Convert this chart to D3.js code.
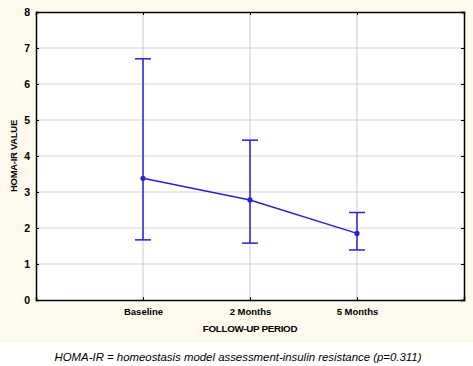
<!DOCTYPE html>
<html>
<head>
<meta charset="utf-8">
<script src="https://cdn.jsdelivr.net/npm/d3@7"></script>
<style>
  body { margin: 0; background: #ffffff; }
  svg { display: block; font-family: "Liberation Sans", Arial, sans-serif; }
</style>
</head>
<body>
<svg id="chart" width="473" height="366"></svg>
<script>
// Data.
const periods = ["Baseline", "2 Months", "5 Months"];
const means = [3.38, 2.78, 1.85];
const upper = [6.70, 4.44, 2.43];
const lower = [1.67, 1.58, 1.39];
const yTicks = [0, 1, 2, 3, 4, 5, 6, 7, 8];

const svg = d3.select("#chart");
const margin = { top: 12, right: 9, bottom: 66, left: 36 };
const W = 473, H = 366;
const innerW = W - margin.left - margin.right;
const innerH = 300 - margin.top;

// Cream panel behind the chart.
svg.append("rect")
  .attr("x", 0).attr("y", 0)
  .attr("width", W).attr("height", 343)
  .attr("fill", "#fdf9ec");

const g = svg.append("g").attr("transform", `translate(${margin.left},${margin.top})`);

// Scales.
const x = d3.scalePoint().domain(periods).range([0, innerW]).padding(1);
const y = d3.scaleLinear().domain([0, 8]).range([innerH, 0]);

// Plot area.
g.append("rect")
  .attr("width", innerW).attr("height", innerH)
  .attr("fill", "#ffffff");

// Gridlines.
g.selectAll(".hgrid")
  .data(yTicks.slice(1, -1))
  .enter()
  .append("line")
  .attr("x1", 0).attr("x2", innerW)
  .attr("y1", d => y(d)).attr("y2", d => y(d))
  .attr("stroke", "#d4d4d4").attr("stroke-width", 1.2);

g.selectAll(".vgrid")
  .data(periods)
  .enter()
  .append("line")
  .attr("x1", d => x(d)).attr("x2", d => x(d))
  .attr("y1", 0).attr("y2", innerH)
  .attr("stroke", "#d4d4d4").attr("stroke-width", 1.2);

// Axes with inward ticks on all four sides.
const axLeft = g.append("g")
  .call(d3.axisLeft(y).tickValues(yTicks).tickSize(-3).tickPadding(6));
const axRight = g.append("g").attr("transform", `translate(${innerW},0)`)
  .call(d3.axisRight(y).tickValues(yTicks).tickSize(-3).tickFormat(""));
const axBottom = g.append("g").attr("transform", `translate(0,${innerH})`)
  .call(d3.axisBottom(x).tickSize(-3).tickPadding(8));
const axTop = g.append("g")
  .call(d3.axisTop(x).tickSize(-3).tickFormat(""));

[axLeft, axRight, axBottom, axTop].forEach(a => {
  a.select(".domain").attr("stroke", "#000").attr("stroke-width", 1.5);
  a.selectAll(".tick line").attr("stroke", "#000").attr("stroke-width", 1);
  a.selectAll("text")
    .attr("fill", "#000")
    .attr("font-family", "Liberation Sans, Arial, sans-serif")
    .attr("font-weight", "bold");
});
axLeft.selectAll("text").attr("font-size", 10.5);
axBottom.selectAll("text").attr("font-size", 9.5);

// Error bars.
const blue = "#2323d2";
const capW = 8;
periods.forEach((p, i) => {
  const cx = x(p);
  g.append("line")
    .attr("x1", cx).attr("x2", cx)
    .attr("y1", y(lower[i])).attr("y2", y(upper[i]))
    .attr("stroke", blue).attr("stroke-width", 1.5);
  [lower[i], upper[i]].forEach(v => {
    g.append("line")
      .attr("x1", cx - capW).attr("x2", cx + capW)
      .attr("y1", y(v)).attr("y2", y(v))
      .attr("stroke", blue).attr("stroke-width", 1.5);
  });
});

// Mean line and markers.
const line = d3.line()
  .x((d, i) => x(periods[i]))
  .y(d => y(d));

g.append("path")
  .datum(means)
  .attr("d", line)
  .attr("fill", "none")
  .attr("stroke", blue)
  .attr("stroke-width", 1.5);

g.selectAll(".dot")
  .data(means)
  .enter()
  .append("circle")
  .attr("cx", (d, i) => x(periods[i]))
  .attr("cy", d => y(d))
  .attr("r", 2.6)
  .attr("fill", blue);

// Axis titles.
svg.append("text")
  .attr("transform", `translate(17,${margin.top + innerH / 2}) rotate(-90)`)
  .attr("text-anchor", "middle")
  .attr("font-size", 9.5)
  .attr("font-weight", "bold")
  .attr("letter-spacing", -0.3)
  .text("HOMA-IR VALUE");

svg.append("text")
  .attr("x", margin.left + innerW / 2)
  .attr("y", 332)
  .attr("text-anchor", "middle")
  .attr("font-size", 9.8)
  .attr("font-weight", "bold")
  .attr("letter-spacing", -0.3)
  .text("FOLLOW-UP PERIOD");

// Caption.
svg.append("text")
  .attr("x", 238)
  .attr("y", 361)
  .attr("text-anchor", "middle")
  .attr("font-size", 11.4)
  .attr("font-style", "italic")
  .text("HOMA-IR = homeostasis model assessment-insulin resistance (p=0.311)");
</script>
</body>
</html>
